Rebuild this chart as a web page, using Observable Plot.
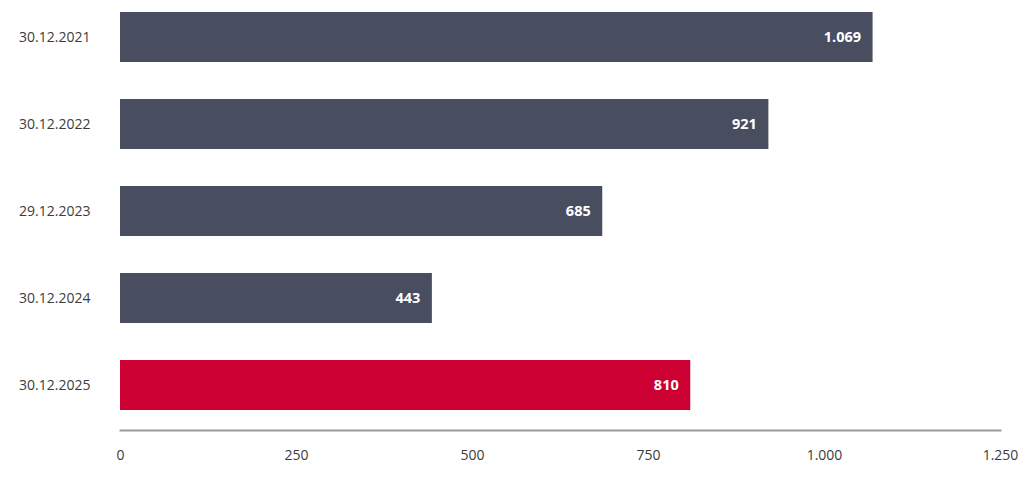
<!DOCTYPE html>
<html>
<head>
<meta charset="utf-8">
<script src="https://cdn.jsdelivr.net/npm/d3@7"></script>
<script src="https://cdn.jsdelivr.net/npm/@observablehq/plot@0.6"></script>
<style>
  html, body { margin: 0; padding: 0; background: #fff; }
  #chart { width: 1018px; height: 478px; }
  svg { font-family: "Open Sans", sans-serif; }
</style>
</head>
<body>
<div id="chart"></div>
<script>
const dates = ["30.12.2021", "30.12.2022", "29.12.2023", "30.12.2024", "30.12.2025"];
const values = [1069, 921, 685, 443, 810];
const highlight = [false, false, false, false, true];
const xTicks = [0, 250, 500, 750, 1000, 1250];

const data = dates.map((d, i) => ({date: d, value: values[i], hi: highlight[i]}));
const fmt = d3.format(",d");
const deFmt = v => fmt(v).replace(/,/g, ".");

const chart = Plot.plot({
  width: 1018,
  height: 478,
  marginTop: 0,
  marginBottom: 48,
  marginLeft: 120,
  marginRight: 18,
  style: {fontFamily: "'Open Sans', sans-serif", fontSize: "14px", color: "#3c3c3c", background: "#fff"},
  x: {domain: [0, 1250], label: null},
  y: {domain: dates, paddingInner: 0.425, paddingOuter: 0.1838, align: 0.375, round: false, label: null},
  marks: [
    Plot.barX(data, {y: "date", x: "value", fill: d => d.hi ? "#cc0033" : "#484e60"}),
    Plot.text(data, {y: "date", x: "value", text: d => deFmt(d.value), textAnchor: "end", dx: -12, fill: "white", fontWeight: "bold", fontSize: 14.5}),
    Plot.frame({anchor: "bottom", stroke: "#9a9a9a", strokeWidth: 2}),
    Plot.axisX({ticks: xTicks, tickFormat: deFmt, tickSize: 0, tickPadding: 20, fontSize: 14, color: "#3c3c3c", label: null}),
    Plot.axisY({tickSize: 0, tickPadding: 30, fontSize: 14, color: "#3c3c3c", label: null})
  ]
});
document.getElementById("chart").appendChild(chart);
</script>
</body>
</html>
